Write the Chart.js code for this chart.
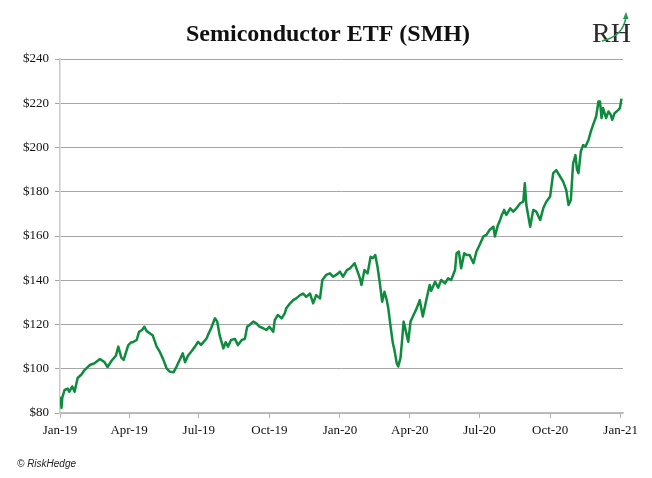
<!DOCTYPE html>
<html>
<head>
<meta charset="utf-8">
<script src="https://cdn.jsdelivr.net/npm/chart.js@4"></script>
<style>
  html, body { margin: 0; padding: 0; background: #fff; }
  #wrap { width: 652px; height: 478px; position: relative; }
</style>
</head>
<body>
<div id="wrap"><canvas id="smh_chart"></canvas></div>
<script>
// days since 1 Jan 2019
var days = [1, 2, 3, 6, 10, 12, 16, 19, 23, 28, 32, 39, 45, 52, 58, 62, 67, 73, 76, 80,
  83, 89, 93, 95, 100, 103, 107, 110, 113, 117, 121, 126, 130, 134, 139, 143, 148, 152, 156, 160,
  163, 167, 171, 176, 180, 184, 191, 193, 197, 202, 205, 208, 213, 216, 219, 223, 228, 232, 237, 241,
  244, 247, 252, 256, 260, 265, 269, 273, 278, 280, 284, 289, 293, 295, 300, 304, 308, 313, 317, 321,
  326, 330, 334, 339, 342, 347, 352, 356, 360, 365, 369, 374, 378, 382, 384, 388, 391, 393, 397, 401,
  405, 408, 411, 414, 417, 420, 423, 426, 428, 431, 434, 436, 439, 441, 444, 446, 448, 452, 454, 457,
  460, 465, 469, 473, 478, 482, 484, 489, 493, 497, 502, 506, 510, 515, 517, 520, 523, 527, 530, 534,
  539, 543, 547, 552, 556, 560, 565, 567, 571, 573, 576, 578, 579, 582, 587, 591, 595, 600, 604, 606,
  608, 613, 617, 621, 626, 630, 634, 639, 643, 647, 652, 656, 660, 663, 666, 668, 669, 672, 674, 676,
  679, 682, 685, 689, 692, 695, 699, 702, 704, 706, 708, 712, 715, 718, 720, 723, 728, 730, 732];

var prices = [87.4, 82.3, 87.0, 90.4, 91.0, 89.6, 92.0, 89.6, 95.8, 97.4, 99.4, 101.7, 102.5, 104.4, 103.0, 100.8, 103.5, 106.0, 110.0, 105.0,
  104.0, 110.7, 112.0, 112.0, 113.0, 116.7, 117.5, 119.0, 117.0, 116.0, 115.0, 110.0, 107.7, 104.7, 100.2, 98.7, 98.4, 101.0, 104.0, 107.0,
  103.0, 106.0, 107.7, 110.0, 112.2, 110.8, 113.7, 115.3, 118.3, 122.8, 121.3, 115.3, 109.2, 112.0, 110.0, 113.0, 113.5, 110.7, 113.0, 113.5,
  119.0, 119.8, 121.3, 120.5, 119.0, 118.3, 117.5, 119.0, 116.7, 122.0, 124.3, 122.8, 125.0, 127.3, 129.6, 131.0, 131.8, 133.3, 134.0, 132.5,
  134.0, 129.6, 133.3, 131.8, 140.1, 142.4, 143.1, 141.6, 142.4, 143.9, 141.6, 144.6, 145.4, 146.9, 147.7, 143.9, 140.9, 137.9, 144.6, 143.1,
  150.6, 150.0, 151.4, 146.0, 138.6, 130.3, 134.8, 131.0, 127.3, 119.0, 111.5, 108.5, 102.5, 101.0, 105.0, 113.0, 121.3, 115.3, 112.2, 121.3,
  123.6, 127.3, 131.0, 123.6, 131.8, 137.9, 135.2, 139.3, 136.6, 140.1, 138.6, 140.9, 140.1, 144.6, 152.2, 153.0, 145.4, 152.2, 151.4, 151.4,
  147.7, 153.0, 155.9, 159.8, 160.5, 162.7, 164.2, 159.8, 165.0, 166.5, 169.5, 171.0, 171.8, 169.5, 172.5, 171.0, 172.5, 174.8, 175.5, 183.8,
  174.0, 164.2, 171.8, 171.0, 167.2, 172.5, 175.5, 177.9, 188.4, 189.8, 186.9, 184.6, 180.8, 174.0, 176.3, 187.6, 192.8, 196.6, 190.0, 188.4,
  198.2, 201.1, 200.4, 203.4, 207.2, 210.2, 214.0, 220.8, 220.8, 213.3, 217.8, 213.3, 216.3, 214.8, 212.5, 215.5, 217.0, 217.8, 222.1];

var tickDays = [0, 90, 181, 273, 365, 456, 547, 639, 731];
var tickLabels = ["Jan-19", "Apr-19", "Jul-19", "Oct-19", "Jan-20", "Apr-20", "Jul-20", "Oct-20", "Jan-21"];

var points = [];
for (var i = 0; i < days.length; i++) {
  points.push({ x: days[i], y: prices[i] });
}

var decorations = {
  id: "decorations",
  afterDraw: function (chart) {
    var ctx = chart.ctx;
    ctx.save();
    // title
    ctx.fillStyle = "#111";
    ctx.font = "bold 24px 'Liberation Serif'";
    ctx.textAlign = "center";
    ctx.textBaseline = "alphabetic";
    ctx.fillText("Semiconductor ETF (SMH)", 328, 41);
    // logo
    ctx.font = "28px 'Liberation Serif'";
    ctx.fillStyle = "#2b2b2b";
    ctx.textAlign = "left";
    ctx.fillText("RH", 592, 42);
    ctx.strokeStyle = "#1f9a4a";
    ctx.lineWidth = 1.6;
    ctx.beginPath();
    ctx.moveTo(602, 41);
    ctx.quadraticCurveTo(624, 36, 626, 16);
    ctx.stroke();
    ctx.fillStyle = "#1f9a4a";
    ctx.beginPath();
    ctx.moveTo(626, 12);
    ctx.lineTo(623, 19);
    ctx.lineTo(628.5, 19);
    ctx.closePath();
    ctx.fill();
    // footer
    ctx.font = "italic 10px 'Liberation Sans'";
    ctx.fillStyle = "#222";
    ctx.fillText("\u00a9 RiskHedge", 17, 467);
    ctx.restore();
  }
};

var ctx = document.getElementById("smh_chart").getContext("2d");
var myChart = new Chart(ctx, {
  type: "line",
  data: {
    datasets: [
      {
        data: points,
        borderColor: "#0f8b3e",
        borderWidth: 2.5,
        borderJoinStyle: "round",
        pointRadius: 0,
        tension: 0,
        fill: false,
      },
    ],
  },
  options: {
    responsive: true,
    maintainAspectRatio: false,
    animation: false,
    layout: { padding: { left: 0, right: 29, top: 59, bottom: 25 } },
    plugins: {
      legend: { display: false },
      title: { display: false },
      tooltip: { enabled: false },
    },
    scales: {
      x: {
        type: "linear",
        min: 0,
        max: 734,
        afterFit: function (scale) { scale.height = 40; },
        afterBuildTicks: function (scale) {
          scale.ticks = tickDays.map(function (d) { return { value: d }; });
        },
        grid: { drawOnChartArea: false, drawTicks: true, tickLength: 5, color: "#b0b0b0" },
        border: { display: true, color: "#bfbfbf", width: 1.5 },
        ticks: {
          autoSkip: false,
          maxRotation: 0,
          padding: 5,
          color: "#111",
          font: { family: "Liberation Serif", size: 13 },
          callback: function (value) {
            var k = tickDays.indexOf(value);
            return k >= 0 ? tickLabels[k] : "";
          },
        },
      },
      y: {
        min: 80,
        max: 240,
        afterFit: function (scale) { scale.width = 60; },
        grid: { color: "#a6a6a6", lineWidth: 1, tickLength: 5 },
        border: { display: true, color: "#c8c8c8", width: 1.5 },
        ticks: {
          stepSize: 20,
          padding: 6,
          color: "#111",
          font: { family: "Liberation Serif", size: 13 },
          callback: function (value) { return "$" + value; },
        },
      },
    },
  },
  plugins: [decorations],
});
</script>
</body>
</html>
